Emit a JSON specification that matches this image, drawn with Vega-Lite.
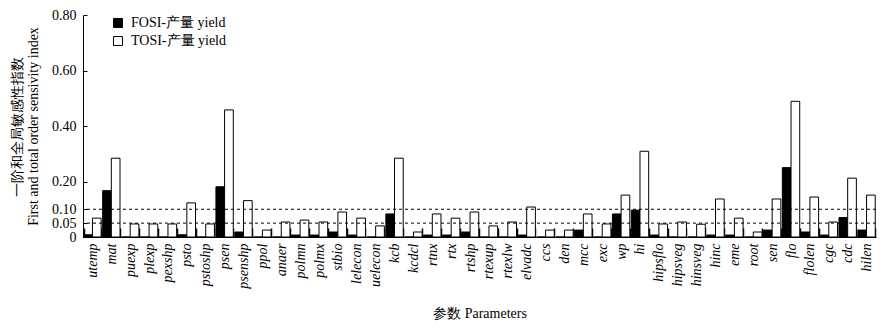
{
  "$schema": "https://vega.github.io/schema/vega-lite/v6.json",
  "autosize": {"type": "none"},
  "padding": {"left": 83, "top": 15, "right": 9, "bottom": 92},
  "width": 793,
  "height": 222,
  "background": "white",
  "config": {
    "view": {"stroke": null},
    "font": "Liberation Serif, DejaVu Serif, serif",
    "axis": {"grid": false, "domainColor": "#000", "tickColor": "#000", "labelColor": "#000", "titleColor": "#000", "labelFont": "Liberation Serif, DejaVu Serif, serif", "titleFont": "Liberation Serif, DejaVu Serif, serif", "titleFontWeight": "normal", "labelFontSize": 13, "titleFontSize": 13},
    "legend": {"labelFont": "Liberation Serif, DejaVu Serif, serif", "labelFontSize": 13, "labelColor": "#000"}
  },
  "datasets": {
    "bars": [
      {"p": "utemp", "s": "FOSI-产量 yield", "v": 0.008}, {"p": "utemp", "s": "TOSI-产量 yield", "v": 0.068},
      {"p": "mat", "s": "FOSI-产量 yield", "v": 0.167}, {"p": "mat", "s": "TOSI-产量 yield", "v": 0.284},
      {"p": "puexp", "s": "FOSI-产量 yield", "v": 0}, {"p": "puexp", "s": "TOSI-产量 yield", "v": 0.047},
      {"p": "plexp", "s": "FOSI-产量 yield", "v": 0}, {"p": "plexp", "s": "TOSI-产量 yield", "v": 0.047},
      {"p": "pexshp", "s": "FOSI-产量 yield", "v": 0}, {"p": "pexshp", "s": "TOSI-产量 yield", "v": 0.047},
      {"p": "psto", "s": "FOSI-产量 yield", "v": 0.008}, {"p": "psto", "s": "TOSI-产量 yield", "v": 0.123},
      {"p": "pstoshp", "s": "FOSI-产量 yield", "v": 0}, {"p": "pstoshp", "s": "TOSI-产量 yield", "v": 0.047},
      {"p": "psen", "s": "FOSI-产量 yield", "v": 0.181}, {"p": "psen", "s": "TOSI-产量 yield", "v": 0.458},
      {"p": "psenshp", "s": "FOSI-产量 yield", "v": 0.018}, {"p": "psenshp", "s": "TOSI-产量 yield", "v": 0.131},
      {"p": "ppol", "s": "FOSI-产量 yield", "v": 0}, {"p": "ppol", "s": "TOSI-产量 yield", "v": 0.025},
      {"p": "anaer", "s": "FOSI-产量 yield", "v": 0}, {"p": "anaer", "s": "TOSI-产量 yield", "v": 0.054},
      {"p": "polmn", "s": "FOSI-产量 yield", "v": 0.007}, {"p": "polmn", "s": "TOSI-产量 yield", "v": 0.061},
      {"p": "polmx", "s": "FOSI-产量 yield", "v": 0.007}, {"p": "polmx", "s": "TOSI-产量 yield", "v": 0.054},
      {"p": "stbio", "s": "FOSI-产量 yield", "v": 0.018}, {"p": "stbio", "s": "TOSI-产量 yield", "v": 0.09},
      {"p": "lelecon", "s": "FOSI-产量 yield", "v": 0.007}, {"p": "lelecon", "s": "TOSI-产量 yield", "v": 0.068},
      {"p": "uelecon", "s": "FOSI-产量 yield", "v": 0}, {"p": "uelecon", "s": "TOSI-产量 yield", "v": 0.04},
      {"p": "kcb", "s": "FOSI-产量 yield", "v": 0.083}, {"p": "kcb", "s": "TOSI-产量 yield", "v": 0.284},
      {"p": "kcdcl", "s": "FOSI-产量 yield", "v": 0}, {"p": "kcdcl", "s": "TOSI-产量 yield", "v": 0.018},
      {"p": "rtnx", "s": "FOSI-产量 yield", "v": 0.007}, {"p": "rtnx", "s": "TOSI-产量 yield", "v": 0.083},
      {"p": "rtx", "s": "FOSI-产量 yield", "v": 0.007}, {"p": "rtx", "s": "TOSI-产量 yield", "v": 0.068},
      {"p": "rtshp", "s": "FOSI-产量 yield", "v": 0.018}, {"p": "rtshp", "s": "TOSI-产量 yield", "v": 0.09},
      {"p": "rtexup", "s": "FOSI-产量 yield", "v": 0}, {"p": "rtexup", "s": "TOSI-产量 yield", "v": 0.04},
      {"p": "rtexlw", "s": "FOSI-产量 yield", "v": 0}, {"p": "rtexlw", "s": "TOSI-产量 yield", "v": 0.054},
      {"p": "elvadc", "s": "FOSI-产量 yield", "v": 0.007}, {"p": "elvadc", "s": "TOSI-产量 yield", "v": 0.108},
      {"p": "ccs", "s": "FOSI-产量 yield", "v": 0}, {"p": "ccs", "s": "TOSI-产量 yield", "v": 0.025},
      {"p": "den", "s": "FOSI-产量 yield", "v": 0}, {"p": "den", "s": "TOSI-产量 yield", "v": 0.025},
      {"p": "mcc", "s": "FOSI-产量 yield", "v": 0.025}, {"p": "mcc", "s": "TOSI-产量 yield", "v": 0.083},
      {"p": "exc", "s": "FOSI-产量 yield", "v": 0}, {"p": "exc", "s": "TOSI-产量 yield", "v": 0.047},
      {"p": "wp", "s": "FOSI-产量 yield", "v": 0.083}, {"p": "wp", "s": "TOSI-产量 yield", "v": 0.151},
      {"p": "hi", "s": "FOSI-产量 yield", "v": 0.097}, {"p": "hi", "s": "TOSI-产量 yield", "v": 0.309},
      {"p": "hipsflo", "s": "FOSI-产量 yield", "v": 0.007}, {"p": "hipsflo", "s": "TOSI-产量 yield", "v": 0.047},
      {"p": "hipsveg", "s": "FOSI-产量 yield", "v": 0}, {"p": "hipsveg", "s": "TOSI-产量 yield", "v": 0.054},
      {"p": "hinsveg", "s": "FOSI-产量 yield", "v": 0}, {"p": "hinsveg", "s": "TOSI-产量 yield", "v": 0.046},
      {"p": "hinc", "s": "FOSI-产量 yield", "v": 0.007}, {"p": "hinc", "s": "TOSI-产量 yield", "v": 0.137},
      {"p": "eme", "s": "FOSI-产量 yield", "v": 0.007}, {"p": "eme", "s": "TOSI-产量 yield", "v": 0.068},
      {"p": "root", "s": "FOSI-产量 yield", "v": 0}, {"p": "root", "s": "TOSI-产量 yield", "v": 0.018},
      {"p": "sen", "s": "FOSI-产量 yield", "v": 0.025}, {"p": "sen", "s": "TOSI-产量 yield", "v": 0.137},
      {"p": "flo", "s": "FOSI-产量 yield", "v": 0.25}, {"p": "flo", "s": "TOSI-产量 yield", "v": 0.489},
      {"p": "flolen", "s": "FOSI-产量 yield", "v": 0.018}, {"p": "flolen", "s": "TOSI-产量 yield", "v": 0.144},
      {"p": "cgc", "s": "FOSI-产量 yield", "v": 0.007}, {"p": "cgc", "s": "TOSI-产量 yield", "v": 0.054},
      {"p": "cdc", "s": "FOSI-产量 yield", "v": 0.07}, {"p": "cdc", "s": "TOSI-产量 yield", "v": 0.212},
      {"p": "hilen", "s": "FOSI-产量 yield", "v": 0.025}, {"p": "hilen", "s": "TOSI-产量 yield", "v": 0.151}
    ],
    "rules": [{"r": 0.1}, {"r": 0.05}]
  },
  "layer": [
    {
      "data": {"name": "bars"},
      "mark": {"type": "bar", "stroke": "#000", "strokeWidth": 1},
      "encoding": {
        "x": {
          "field": "p", "type": "nominal", "sort": null,
          "scale": {"paddingInner": 0.08, "paddingOuter": 0.04},
          "axis": {
            "title": "参数 Parameters", "titlePadding": 18, "titleFontSize": 14,
            "labelAngle": -90, "labelAlign": "right", "labelBaseline": "middle",
            "labelFontStyle": "italic", "labelPadding": 15, "labelFontSize": 14,
            "tickBand": "extent", "tickSize": -9, "tickWidth": 1.5
          }
        },
        "xOffset": {"field": "s", "type": "nominal", "sort": ["FOSI-产量 yield", "TOSI-产量 yield"], "scale": {"paddingInner": 0, "paddingOuter": 0}},
        "y": {
          "field": "v", "type": "quantitative",
          "scale": {"domain": [0, 0.8], "nice": false},
          "axis": {
            "title": ["一阶和全局敏感性指数", "First and total order sensivity index"],
            "titlePadding": 11, "titleFontSize": 14,
            "values": [0, 0.05, 0.1, 0.2, 0.4, 0.6, 0.8],
            "labelExpr": "datum.value == 0 ? '0' : format(datum.value, '.2f')",
            "labelOverlap": false, "labelFlush": false, "labelBound": false,
            "ticks": true, "tickSize": -4, "labelPadding": 11, "labelFontSize": 14
          }
        },
        "color": {
          "field": "s", "type": "nominal",
          "scale": {"domain": ["FOSI-产量 yield", "TOSI-产量 yield"], "range": ["#000000", "#ffffff"]},
          "legend": {
            "title": null, "orient": "none", "legendX": 28, "legendY": 1,
            "symbolType": "square", "symbolSize": 80, "symbolStrokeColor": "#000", "symbolStrokeWidth": 1,
            "labelOffset": 6, "rowPadding": 4, "labelFontSize": 14
          }
        }
      }
    },
    {
      "data": {"name": "rules"},
      "mark": {"type": "rule", "strokeDash": [3, 3], "color": "#000", "strokeWidth": 1},
      "encoding": {"y": {"field": "r", "type": "quantitative",
          "axis": {
            "title": ["一阶和全局敏感性指数", "First and total order sensivity index"],
            "titlePadding": 11, "titleFontSize": 14,
            "values": [0, 0.05, 0.1, 0.2, 0.4, 0.6, 0.8],
            "labelExpr": "datum.value == 0 ? '0' : format(datum.value, '.2f')",
            "labelOverlap": false, "labelFlush": false, "labelBound": false,
            "ticks": true, "tickSize": -4, "labelPadding": 11, "labelFontSize": 14
          }}}
    }
  ]
}
